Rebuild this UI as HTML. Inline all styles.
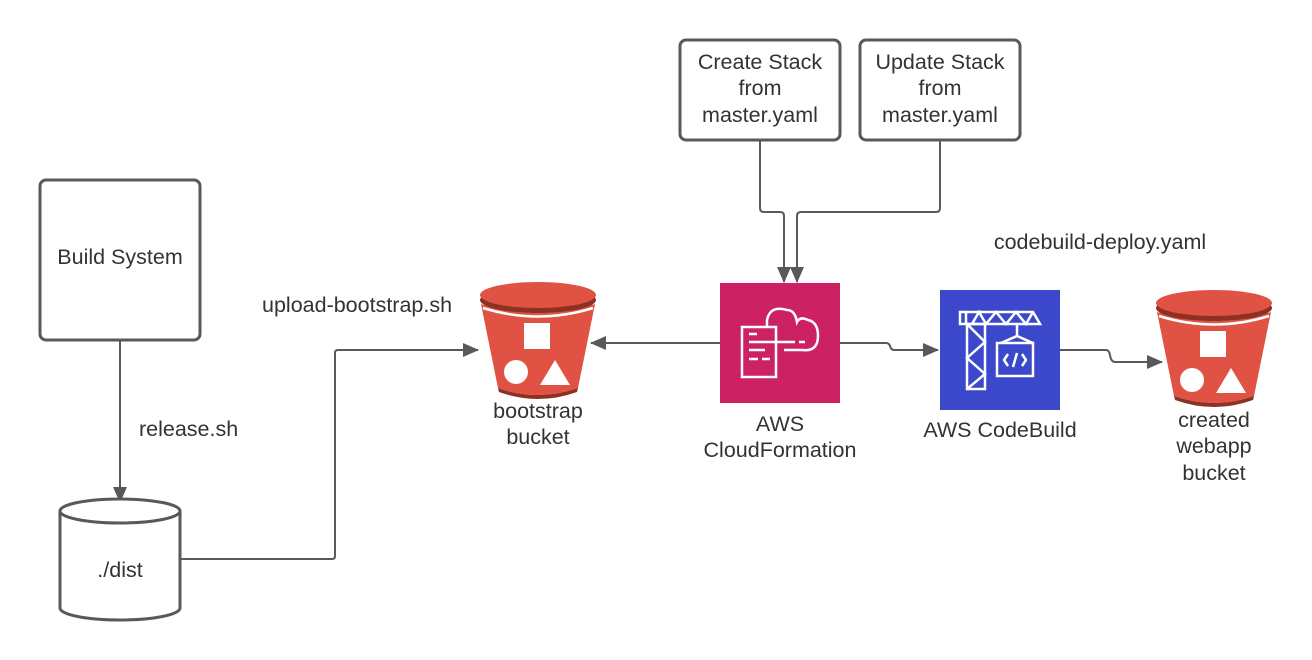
<!DOCTYPE html>
<html><head><meta charset="utf-8"><style>
html,body{margin:0;padding:0;background:#fff;}
svg{display:block;}
text{font-family:"Liberation Sans",sans-serif;font-size:21.5px;fill:#333;}
</style></head><body>
<svg width="1312" height="660" viewBox="0 0 1312 660" xmlns="http://www.w3.org/2000/svg">
<defs>
<marker id="ah" markerWidth="16" markerHeight="14" refX="15" refY="7" orient="auto" markerUnits="userSpaceOnUse">
<path d="M0,0 L16,7 L0,14 Z" fill="#595959"/>
</marker>
<g id="bucket">
<path d="M1,22 Q58,40 115,22 L98,106 Q58,120 18,106 Z" fill="#e05243"/>
<path d="M18,106 Q58,120 98,106 L97,110 Q58,124 19,110 Z" fill="#8c3123"/>
<ellipse cx="58" cy="18" rx="58" ry="13" fill="#8c3123"/>
<ellipse cx="58" cy="13" rx="58" ry="13" fill="#e05243"/>
<path d="M3,26 Q58,43 113,26" stroke="#fff" stroke-width="2.5" fill="none"/>
<rect x="44" y="41" width="26" height="26" fill="#fff"/>
<circle cx="36" cy="90" r="12" fill="#fff"/>
<path d="M75,78 L90,103 L60,103 Z" fill="#fff"/>
</g>
</defs>

<rect x="40" y="180" width="160" height="160" rx="6" fill="#fff" stroke="#595959" stroke-width="3"/>
<text x="120" y="264" text-anchor="middle">Build System</text>
<line x1="120" y1="340" x2="120" y2="502" stroke="#595959" stroke-width="2" marker-end="url(#ah)"/>
<text x="139" y="436">release.sh</text>

<path d="M60,511 L60,608 A60,12 0 0 0 180,608 L180,511" fill="#fff" stroke="#595959" stroke-width="3"/>
<ellipse cx="120" cy="511" rx="60" ry="12" fill="#fff" stroke="#595959" stroke-width="3"/>
<text x="120" y="577" text-anchor="middle">./dist</text>

<path d="M180,559 L332,559 Q335,559 335,556 L335,353 Q335,350 338,350 L478,350" fill="none" stroke="#595959" stroke-width="2" marker-end="url(#ah)"/>
<text x="262" y="312">upload-bootstrap.sh</text>

<use href="#bucket" transform="translate(480,282)"/>
<text x="538" y="418" text-anchor="middle">bootstrap</text>
<text x="538" y="444" text-anchor="middle">bucket</text>

<rect x="680" y="40" width="160" height="100" rx="6" fill="#fff" stroke="#595959" stroke-width="3"/>
<text x="760" y="69" text-anchor="middle">Create Stack</text>
<text x="760" y="95" text-anchor="middle">from</text>
<text x="760" y="122" text-anchor="middle">master.yaml</text>
<rect x="860" y="40" width="160" height="100" rx="6" fill="#fff" stroke="#595959" stroke-width="3"/>
<text x="940" y="69" text-anchor="middle">Update Stack</text>
<text x="940" y="95" text-anchor="middle">from</text>
<text x="940" y="122" text-anchor="middle">master.yaml</text>
<path d="M760,140 L760,208 Q760,212 764,212 L780,212 Q784,212 784,216 L784,282" fill="none" stroke="#595959" stroke-width="2" marker-end="url(#ah)"/>
<path d="M940,140 L940,208 Q940,212 936,212 L801,212 Q797,212 797,216 L797,282" fill="none" stroke="#595959" stroke-width="2" marker-end="url(#ah)"/>

<rect x="720" y="283" width="120" height="120" fill="#cc2264"/>
<g stroke="#fff" stroke-width="2.5" fill="none">
<rect x="742" y="327" width="34" height="50"/>
<path d="M767,327 L767,320 Q770,305 787,310 Q795,310 797,322 Q800,316 808,320 Q818,322 818,336 Q818,352 802,350 L784,350"/>
<line x1="749" y1="334" x2="757" y2="334"/>
<line x1="749" y1="342" x2="795" y2="342"/><line x1="799" y1="342" x2="805" y2="342"/>
<line x1="749" y1="350" x2="765" y2="350"/>
<line x1="749" y1="359" x2="758" y2="359"/><line x1="762" y1="359" x2="770" y2="359"/>
</g>
<text x="780" y="431" text-anchor="middle">AWS</text>
<text x="780" y="457" text-anchor="middle">CloudFormation</text>
<line x1="720" y1="343" x2="591" y2="343" stroke="#595959" stroke-width="2" marker-end="url(#ah)"/>

<path d="M840,343 L886,343 Q889,343 890,346 Q891,350 894,350 L938,350" fill="none" stroke="#595959" stroke-width="2" marker-end="url(#ah)"/>

<rect x="940" y="290" width="120" height="120" fill="#3b48cc"/>
<g stroke="#fff" stroke-width="2.5" fill="none">
<rect x="960" y="312" width="6" height="12"/>
<path d="M966,312 L1033,312 L1040,324 L966,324"/>
<path d="M972,324 L979,312 L986,324 L996,312 L1006,324 L1016,312 L1026,324 L1033,312"/>
<rect x="967" y="324" width="18" height="65"/>
<path d="M967,324 L985,342 L967,358 L985,374 L967,389"/>
<line x1="1017" y1="324" x2="1017" y2="336"/>
<path d="M1001,343 L1017,336 L1033,343"/>
<rect x="997" y="343" width="36" height="33"/>
<path d="M1008,354 L1004,360 L1008,366 M1022,354 L1026,360 L1022,366 M1017,353 L1013,367"/>
</g>
<text x="1000" y="437" text-anchor="middle">AWS CodeBuild</text>
<text x="1100" y="249" text-anchor="middle">codebuild-deploy.yaml</text>

<path d="M1060,350 L1106,350 Q1109,350 1110,355 Q1111,362 1115,362 L1162,362" fill="none" stroke="#595959" stroke-width="2" marker-end="url(#ah)"/>

<use href="#bucket" transform="translate(1156,290)"/>
<text x="1214" y="427" text-anchor="middle">created</text>
<text x="1214" y="453" text-anchor="middle">webapp</text>
<text x="1214" y="480" text-anchor="middle">bucket</text>
</svg>
</body></html>
